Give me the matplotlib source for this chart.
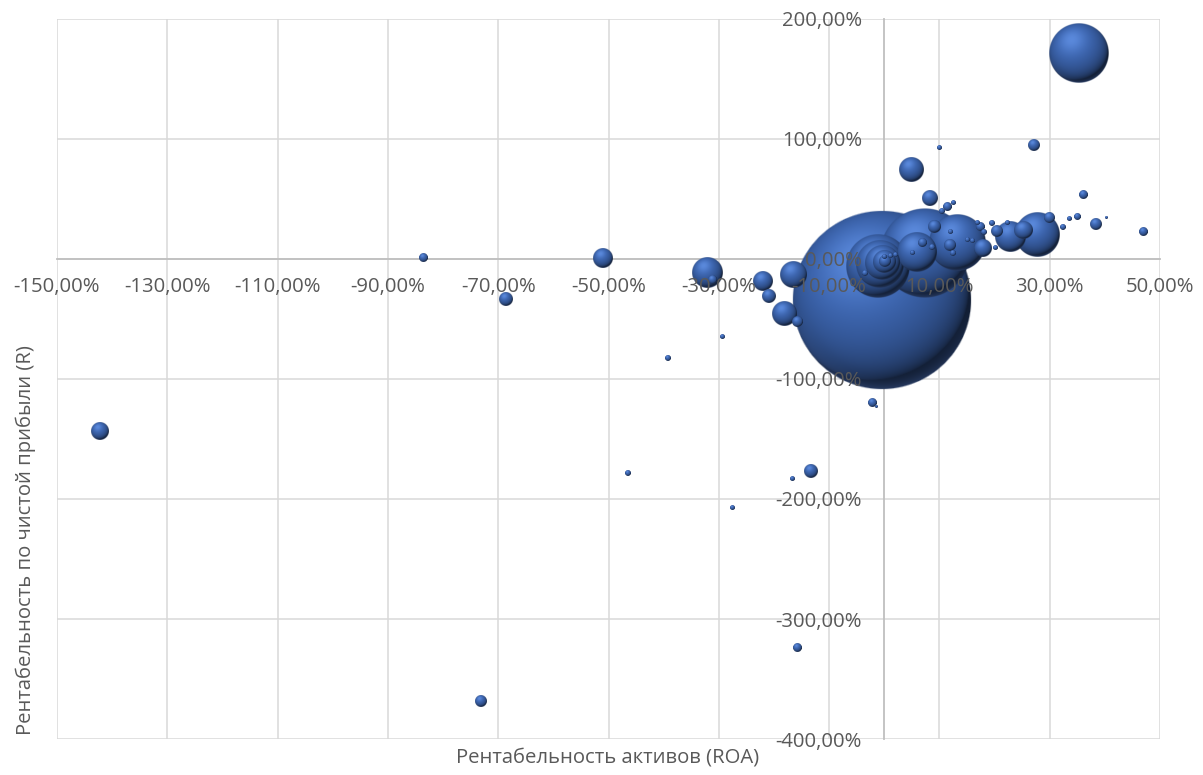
import numpy as np
import matplotlib
matplotlib.use("Agg")
import matplotlib.pyplot as plt
import matplotlib.transforms as mtransforms
from matplotlib.ticker import FixedLocator, FuncFormatter

# ---- data (ROA %, net profit margin %, bubble size) ----
roa = [-0.4, 7.4, 13.2, 5.9, -1.1, -0.8, -0.4, 0.0, 0.1, 0.0, 1.0, 1.9,
       4.85, 35.3, 27.2, 10.1, 8.3, -51.0, -32.1, -31.2, -22.0, -20.9, -16.5,
       -18.2, -15.8, -29.4, -39.2, -2.2, -1.5, -83.6, -68.6, -142.2, -73.1,
       -46.5, -27.6, -13.3, -16.7, -15.8, 46.9, 27.7, 22.8, 25.2, 29.9, 36.0,
       38.4, 35.1, 33.5, 32.4, 20.4, 19.5, 22.3, 17.4, 17.9, 20.1, 40.2, 11.4,
       12.5, 10.5, 9.2, 11.9, 11.9, 12.5, 6.8, 8.7, 5.2, -3.5, 15.0, 16.0,
       16.9, 18.0]
margin = [-34.2, 5.0, 13.3, 5.8, -5.8, -4.2, -3.3, -2.5, -1.7, 1.7, 2.5, 3.3,
          74.2, 171.7, 95.0, 92.5, 50.8, 0.8, -11.7, -17.5, -18.3, -30.8, -13.3,
          -45.8, -52.5, -65.0, -82.5, -119.2, -123.3, 0.8, -33.3, -143.3, -368.3,
          -178.3, -206.7, -176.7, -183.3, -324.2, 22.5, 20.0, 18.3, 24.2, 34.2, 53.3,
          29.2, 35.0, 33.3, 26.7, 23.3, 30.0, 30.0, 26.7, 9.2, 9.2, 34.0, 43.3,
          46.7, 40.0, 26.7, 22.5, 11.7, 5.0, 13.3, 10.0, 5.0, -11.7, 15.8, 15.0,
          30.0, 22.5]
size = [100, 25, 9.7, 4.9, 12.6, 7.1, 3.6, 1.5, 0.44, 0.05, 0.05, 0.05,
        1.8, 11.1, 0.44, 0.077, 0.79, 1.23, 2.8, 0.2, 1.23, 0.6, 2.1,
        1.8, 0.31, 0.077, 0.11, 0.25, 0.018, 0.2, 0.6, 1.0, 0.44,
        0.11, 0.077, 0.6, 0.077, 0.2, 0.2, 6.0, 2.8, 1.0, 0.31, 0.2,
        0.44, 0.15, 0.05, 0.11, 0.44, 0.11, 0.05, 0.2, 1.0, 0.05, 0.018, 0.2,
        0.05, 0.11, 0.52, 0.05, 0.44, 0.11, 0.2, 0.11, 0.077, 0.11, 0.05, 0.05,
        0.05, 0.11]

x_ticks = [-150, -130, -110, -90, -70, -50, -30, -10, 10, 30, 50]
y_ticks = [-400, -300, -200, -100, 0, 100, 200]
x_title = "Рентабельность активов (ROA)"
y_title = "Рентабельность по чистой прибыли (R)"

FONT = ["Open Sans", "DejaVu Sans"]
plt.rcParams["font.family"] = FONT
TXT = "#595959"

W, H, DPI = 1203, 775, 100
fig = plt.figure(figsize=(W / DPI, H / DPI), dpi=DPI)
ax = fig.add_axes([57 / W, 36 / H, 1103 / W, 720 / H])
ax.set_autoscale_on(False)
ax.set_xlim(-150, 50)
ax.set_ylim(-400, 200)

# grid
for xv in x_ticks:
    ax.axvline(xv, color="#D9D9D9", lw=1.1, zorder=0.2)
for yv in y_ticks:
    ax.axhline(yv, color="#D9D9D9", lw=1.1, zorder=0.2)

for s in ("top", "right"):
    ax.spines[s].set_visible(False)
ax.spines["bottom"].set_position(("data", 0))
ax.spines["left"].set_position(("data", 0))
for s in ("bottom", "left"):
    ax.spines[s].set_color("#BFBFBF")
    ax.spines[s].set_linewidth(1.3)
    ax.spines[s].set_zorder(0.5)

fmt = FuncFormatter(lambda v, p: f"{v:.2f}".replace(".", ",") + "%")
ax.xaxis.set_major_locator(FixedLocator(x_ticks))
ax.yaxis.set_major_locator(FixedLocator(y_ticks))
ax.xaxis.set_major_formatter(fmt)
ax.yaxis.set_major_formatter(fmt)
ax.tick_params(axis="both", length=0, labelsize=14.6, labelcolor=TXT)
ax.tick_params(axis="x", pad=13)
ax.tick_params(axis="y", pad=16)
ax.xaxis.set_zorder(10)
ax.yaxis.set_zorder(10)

# ---- 3D sphere shading image ----
N = 201
g = np.linspace(-1, 1, N)
U, V = np.meshgrid(g, g)
R2 = U ** 2 + V ** 2
rho = np.sqrt(R2)
NZ = np.sqrt(np.clip(1 - R2, 0, 1))
L = np.array([-0.25, 0.45, 0.86])
L /= np.linalg.norm(L)
d = np.clip(U * L[0] + V * L[1] + NZ * L[2], 0, 1)
base = np.array([0.25, 0.42, 0.73])
col = base * (0.28 + 0.72 * d[..., None] ** 0.6)
col = col + (0.13 * d ** 10)[..., None] * np.array([0.8, 0.9, 1.0])
edge = np.clip((rho - 0.80) / 0.20, 0, 1) ** 2
rim = (edge * np.clip(-V - 0.1, 0, 1) * 0.22)[..., None] * np.array([0.45, 0.6, 0.95])
col = col + rim
alpha = np.clip((1 - rho) * (N / 2) * 0.9, 0, 1)
img = np.dstack([np.clip(col, 0, 1), alpha])

R_MAX = 90.0  # px radius of the largest bubble
smax = max(size)
order = np.argsort(size)[::-1]
for k, i in enumerate(order):
    r_in = R_MAX * np.sqrt(size[i] / smax) / DPI
    trans = fig.dpi_scale_trans + mtransforms.ScaledTranslation(roa[i], margin[i], ax.transData)
    ax.imshow(img, extent=(-r_in, r_in, -r_in, r_in), transform=trans,
              origin="lower", interpolation="bilinear", aspect="auto",
              zorder=1 + k * 0.01)

ax.set_xlim(-150, 50)
ax.set_ylim(-400, 200)

fig.text(608 / W, 1 - 757 / H, x_title, ha="center", va="center",
         fontsize=14.6, color=TXT)
fig.text(26 / W, 1 - 540 / H, y_title, ha="center", va="center",
         rotation=90, fontsize=14.6, color=TXT)

fig.savefig("out.png", dpi=DPI)
